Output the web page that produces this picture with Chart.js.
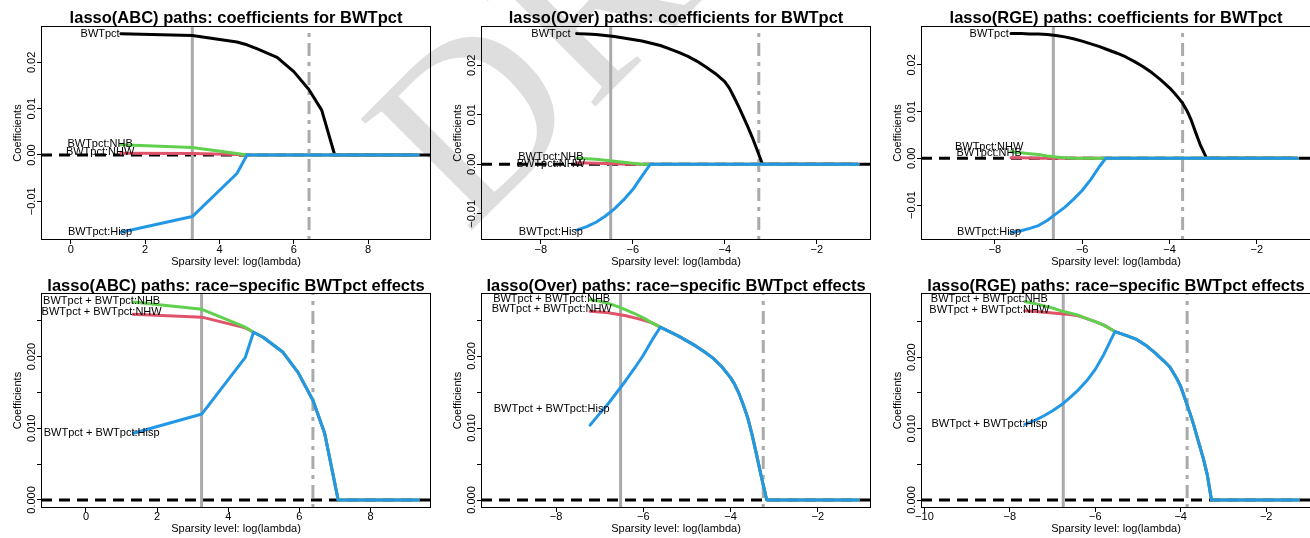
<!DOCTYPE html>
<html>
<head>
<meta charset="utf-8">
<script src="https://cdn.jsdelivr.net/npm/chart.js@4/dist/chart.umd.min.js"></script>
<style>
  html, body { margin: 0; padding: 0; background: #fff; }
  #page { position: relative; width: 1310px; height: 538px; overflow: hidden; }
  #page canvas { position: absolute; }
</style>
</head>
<body>
<div id="page">
  <canvas id="stamp" width="1310" height="538" style="left:0;top:0"></canvas>
</div>
<script>
// ---- lasso(ABC) ----
const abcLogLambda = [1.35, 3.27, 4.47, 4.74, 5.02, 5.55, 6.0, 6.4, 6.75, 7.1, 9.34];
const abcCoefMain = [0.0262, 0.0258, 0.0244, 0.0238, 0.0229, 0.0211, 0.0180, 0.0142, 0.0097, 0, 0];
const abcCoefNHW  = [0.0004, 0.0003, 0.0001, 0, 0, 0, 0, 0, 0, 0, 0];
const abcCoefNHB  = [0.0022, 0.0016, 0.0003, 0, 0, 0, 0, 0, 0, 0, 0];
const abcCoefHisp = [-0.0167, -0.0133, -0.0040, 0, 0, 0, 0, 0, 0, 0, 0];

const abcLogLambdaB = [1.33, 3.26, 4.48, 4.71, 4.98, 5.54, 5.96, 6.38, 6.71, 7.09, 9.34];
const abcEffNHW  = [0.0259, 0.0255, 0.0240, 0.0234, 0.0227, 0.0206, 0.0178, 0.0139, 0.0093, 0, 0];
const abcEffNHB  = [0.0276, 0.0266, 0.0241, 0.0234, 0.0227, 0.0206, 0.0178, 0.0139, 0.0093, 0, 0];
const abcEffHisp = [0.0093, 0.0120, 0.0199, 0.0234, 0.0227, 0.0206, 0.0178, 0.0139, 0.0093, 0, 0];

// ---- lasso(Over) ----
const overLogLambda = [-7.22, -7.0, -6.8, -6.6, -6.4, -6.2, -6.0, -5.8, -5.62, -5.4, -5.2, -5.0, -4.8, -4.6, -4.4, -4.2, -4.0, -3.9, -3.8, -3.7, -3.6, -3.5, -3.4, -3.3, -3.18, -1.1];
const overCoefMain = [0.0264, 0.0263, 0.0262, 0.0260, 0.0258, 0.0255, 0.0252, 0.0249, 0.0245, 0.0240, 0.0233, 0.0226, 0.0218, 0.0208, 0.0196, 0.0183, 0.0167, 0.0154, 0.0136, 0.0117, 0.0097, 0.0076, 0.0054, 0.0030, 0, 0];
const overCoefNHW  = [0.0003, 0.00025, 0.0002, 0.00015, 0.0001, 0.00005, 0, 0, 0, 0, 0, 0, 0, 0, 0, 0, 0, 0, 0, 0, 0, 0, 0, 0, 0, 0];
const overCoefNHB  = [0.0012, 0.0011, 0.0010, 0.0008, 0.0006, 0.0004, 0.0002, 0, 0, 0, 0, 0, 0, 0, 0, 0, 0, 0, 0, 0, 0, 0, 0, 0, 0, 0];
const overCoefHisp = [-0.0133, -0.0126, -0.0117, -0.0105, -0.0090, -0.0072, -0.0051, -0.0024, 0, 0, 0, 0, 0, 0, 0, 0, 0, 0, 0, 0, 0, 0, 0, 0, 0, 0];

const overLogLambdaB = [-7.22, -7.0, -6.8, -6.6, -6.4, -6.2, -6.0, -5.8, -5.61, -5.4, -5.2, -5.0, -4.8, -4.6, -4.4, -4.2, -4.0, -3.9, -3.8, -3.7, -3.6, -3.5, -3.4, -3.3, -3.17, -1.07];
const overEffNHW  = [0.0262, 0.0261, 0.0260, 0.0258, 0.0256, 0.0253, 0.0250, 0.0246, 0.0240, 0.0234, 0.0228, 0.0221, 0.0214, 0.0206, 0.0197, 0.0185, 0.0170, 0.0160, 0.0147, 0.0131, 0.0113, 0.0089, 0.0062, 0.0034, 0, 0];
const overEffNHB  = [0.0278, 0.0276, 0.0273, 0.0269, 0.0264, 0.0259, 0.0253, 0.0246, 0.0240, 0.0234, 0.0228, 0.0221, 0.0214, 0.0206, 0.0197, 0.0185, 0.0170, 0.0160, 0.0147, 0.0131, 0.0113, 0.0089, 0.0062, 0.0034, 0, 0];
const overEffHisp = [0.0104, 0.0120, 0.0134, 0.0150, 0.0166, 0.0183, 0.0201, 0.0222, 0.0240, 0.0234, 0.0228, 0.0221, 0.0214, 0.0206, 0.0197, 0.0185, 0.0170, 0.0160, 0.0147, 0.0131, 0.0113, 0.0089, 0.0062, 0.0034, 0, 0];

// ---- lasso(RGE) ----
const rgeLogLambda = [-7.63, -7.4, -7.2, -7.0, -6.8, -6.6, -6.4, -6.2, -6.0, -5.8, -5.6, -5.46, -5.2, -5.0, -4.8, -4.6, -4.4, -4.2, -4.0, -3.9, -3.8, -3.7, -3.6, -3.5, -3.4, -3.3, -3.15, -1.07];
const rgeCoefMain = [0.0267, 0.0267, 0.0266, 0.0266, 0.0265, 0.0263, 0.0260, 0.0256, 0.0251, 0.0245, 0.0239, 0.0234, 0.0225, 0.0217, 0.0207, 0.0196, 0.0183, 0.0168, 0.0151, 0.0141, 0.0130, 0.0118, 0.0102, 0.0081, 0.0055, 0.0030, 0, 0];
const rgeCoefNHW  = [0.0001, 0.0001, 0.00005, 0.00003, 0, 0, 0, 0, 0, 0, 0, 0, 0, 0, 0, 0, 0, 0, 0, 0, 0, 0, 0, 0, 0, 0, 0, 0];
const rgeCoefNHB  = [0.0014, 0.0012, 0.0010, 0.0008, 0.0005, 0.0003, 0.0001, 0, 0, 0, 0, 0, 0, 0, 0, 0, 0, 0, 0, 0, 0, 0, 0, 0, 0, 0, 0, 0];
const rgeCoefHisp = [-0.0159, -0.0155, -0.0150, -0.0144, -0.0133, -0.0119, -0.0105, -0.0088, -0.0069, -0.0045, -0.0017, 0, 0, 0, 0, 0, 0, 0, 0, 0, 0, 0, 0, 0, 0, 0, 0, 0];

const rgeLogLambdaB = [-7.65, -7.4, -7.2, -7.0, -6.8, -6.6, -6.4, -6.2, -6.0, -5.8, -5.54, -5.3, -5.03, -4.8, -4.6, -4.4, -4.25, -4.1, -4.0, -3.9, -3.78, -3.7, -3.6, -3.47, -3.38, -3.28, -1.25];
const rgeEffNHW  = [0.0265, 0.0264, 0.0263, 0.0262, 0.0261, 0.0260, 0.0258, 0.0254, 0.0250, 0.0245, 0.0236, 0.0231, 0.0225, 0.0216, 0.0206, 0.0195, 0.0186, 0.0171, 0.0159, 0.0142, 0.0121, 0.0106, 0.0085, 0.0058, 0.0036, 0, 0];
const rgeEffNHB  = [0.0278, 0.0275, 0.0272, 0.0269, 0.0265, 0.0262, 0.0259, 0.0254, 0.0250, 0.0245, 0.0236, 0.0231, 0.0225, 0.0216, 0.0206, 0.0195, 0.0186, 0.0171, 0.0159, 0.0142, 0.0121, 0.0106, 0.0085, 0.0058, 0.0036, 0, 0];
const rgeEffHisp = [0.0106, 0.0112, 0.0118, 0.0125, 0.0133, 0.0143, 0.0154, 0.0167, 0.0183, 0.0204, 0.0236, 0.0231, 0.0225, 0.0216, 0.0206, 0.0195, 0.0186, 0.0171, 0.0159, 0.0142, 0.0121, 0.0106, 0.0085, 0.0058, 0.0036, 0, 0];

// ---- ticks ----
const coefTicks = [-0.01, 0, 0.01, 0.02];
const coefTickText = ['\u22120.01', '0.00', '0.01', '0.02'];
const effTicks = [0, 0.005, 0.01, 0.015, 0.02, 0.025];
const effTickText = ['0.000', '', '0.010', '', '0.020', ''];
const posLambdaTicks = [0, 2, 4, 6, 8];
const posLambdaTickText = ['0', '2', '4', '6', '8'];
const negLambdaTicks = [-8, -6, -4, -2];
const negLambdaTickText = ['\u22128', '\u22126', '\u22124', '\u22122'];
const wideLambdaTicks = [-10, -8, -6, -4, -2];
const wideLambdaTickText = ['\u221210', '\u22128', '\u22126', '\u22124', '\u22122'];

const BLACK = '#000000', RED = '#DF536B', GREEN = '#61D04F', BLUE = '#2297E6';
const CUT_GRAY = '#AAAAAA';
const SANS = '"Liberation Sans", Arial, Helvetica, sans-serif';

const panels = [
  {
    col: 0, row: 0, title: 'lasso(ABC) paths: coefficients for BWTpct',
    x: abcLogLambda,
    series: [
      { name: 'BWTpct', values: abcCoefMain, color: BLACK, tagY: 0.0262 },
      { name: 'BWTpct:NHW', values: abcCoefNHW, color: RED, tagY: 0.0007 },
      { name: 'BWTpct:NHB', values: abcCoefNHB, color: GREEN, tagY: 0.0024 },
      { name: 'BWTpct:Hisp', values: abcCoefHisp, color: BLUE, tagY: -0.0166 }
    ],
    xlim: [-0.80, 9.69], ylim: [-0.01836, 0.02786],
    xticks: posLambdaTicks, xtext: posLambdaTickText, yticks: coefTicks, ytext: coefTickText,
    cutMin: 3.27, cut1se: 6.41, tagX: 0.79
  },
  {
    col: 1, row: 0, title: 'lasso(Over) paths: coefficients for BWTpct',
    x: overLogLambda,
    series: [
      { name: 'BWTpct', values: overCoefMain, color: BLACK, tagY: 0.0264 },
      { name: 'BWTpct:NHW', values: overCoefNHW, color: RED, tagY: 0.0 },
      { name: 'BWTpct:NHB', values: overCoefNHB, color: GREEN, tagY: 0.00154 },
      { name: 'BWTpct:Hisp', values: overCoefHisp, color: BLUE, tagY: -0.0136 }
    ],
    xlim: [-9.30, -0.82], ylim: [-0.01529, 0.02794],
    xticks: negLambdaTicks, xtext: negLambdaTickText, yticks: coefTicks, ytext: coefTickText,
    cutMin: -6.48, cut1se: -3.26, tagX: -7.78
  },
  {
    col: 2, row: 0, title: 'lasso(RGE) paths: coefficients for BWTpct',
    x: rgeLogLambda,
    series: [
      { name: 'BWTpct', values: rgeCoefMain, color: BLACK, tagY: 0.02655 },
      { name: 'BWTpct:NHW', values: rgeCoefNHW, color: RED, tagY: 0.00248 },
      { name: 'BWTpct:NHB', values: rgeCoefNHB, color: GREEN, tagY: 0.0012 },
      { name: 'BWTpct:Hisp', values: rgeCoefHisp, color: BLUE, tagY: -0.0157 }
    ],
    xlim: [-9.69, -0.76], ylim: [-0.01749, 0.02833],
    xticks: negLambdaTicks, xtext: negLambdaTickText, yticks: coefTicks, ytext: coefTickText,
    cutMin: -6.66, cut1se: -3.70, tagX: -8.13
  },
  {
    col: 0, row: 1, title: 'lasso(ABC) paths: race\u2212specific BWTpct effects',
    x: abcLogLambdaB,
    series: [
      { name: 'BWTpct + BWTpct:NHW', values: abcEffNHW, color: RED, tagY: 0.02618 },
      { name: 'BWTpct + BWTpct:NHB', values: abcEffNHB, color: GREEN, tagY: 0.02775 },
      { name: 'BWTpct + BWTpct:Hisp', values: abcEffHisp, color: BLUE, tagY: 0.0093 }
    ],
    xlim: [-1.265, 9.70], ylim: [-0.00112, 0.02887],
    xticks: posLambdaTicks, xtext: posLambdaTickText, yticks: effTicks, ytext: effTickText,
    cutMin: 3.25, cut1se: 6.38, tagX: 0.44
  },
  {
    col: 1, row: 1, title: 'lasso(Over) paths: race\u2212specific BWTpct effects',
    x: overLogLambdaB,
    series: [
      { name: 'BWTpct + BWTpct:NHW', values: overEffNHW, color: RED, tagY: 0.0265 },
      { name: 'BWTpct + BWTpct:NHB', values: overEffNHB, color: GREEN, tagY: 0.0279 },
      { name: 'BWTpct + BWTpct:Hisp', values: overEffHisp, color: BLUE, tagY: 0.01265 }
    ],
    xlim: [-9.72, -0.78], ylim: [-0.00111, 0.02875],
    xticks: negLambdaTicks, xtext: negLambdaTickText, yticks: effTicks, ytext: effTickText,
    cutMin: -6.52, cut1se: -3.25, tagX: -8.10
  },
  {
    col: 2, row: 1, title: 'lasso(RGE) paths: race\u2212specific BWTpct effects',
    x: rgeLogLambdaB,
    series: [
      { name: 'BWTpct + BWTpct:NHW', values: rgeEffNHW, color: RED, tagY: 0.0266 },
      { name: 'BWTpct + BWTpct:NHB', values: rgeEffNHB, color: GREEN, tagY: 0.02813 },
      { name: 'BWTpct + BWTpct:Hisp', values: rgeEffHisp, color: BLUE, tagY: 0.0106 }
    ],
    xlim: [-10.08, -0.95], ylim: [-0.00112, 0.0290],
    xticks: wideLambdaTicks, xtext: wideLambdaTickText, yticks: effTicks, ytext: effTickText,
    cutMin: -6.75, cut1se: -3.85, tagX: -8.48
  }
];

// faint diagonal stamp behind the figure
function drawStamp() {
  const ctx = document.getElementById('stamp').getContext('2d');
  ctx.save();
  ctx.translate(467, 235);
  ctx.rotate(-Math.PI / 4);
  ctx.font = '240px "Liberation Serif", "DejaVu Serif", serif';
  ctx.fillStyle = '#dedede';
  ctx.textBaseline = 'alphabetic';
  ctx.fillText('DRAFT', 0, 0);
  ctx.restore();
}

function makePanel(p) {
  const W = 440, H = p.row === 0 ? 270 : 268;
  const box = p.row === 0 ? { l: 41, t: 26, r: 431, b: 240 } : { l: 41, t: 23, r: 431, b: 238 };
  const cv = document.createElement('canvas');
  cv.width = W; cv.height = H;
  cv.style.left = (p.col * 440) + 'px';
  cv.style.top = (p.row === 0 ? 0 : 270) + 'px';
  document.getElementById('page').appendChild(cv);

  const decor = {
    id: 'decor',
    beforeDatasetsDraw(chart) {
      const { ctx, chartArea: a, scales: { x, y } } = chart;
      ctx.save();
      // zero reference
      const y0 = y.getPixelForValue(0);
      ctx.strokeStyle = BLACK; ctx.lineWidth = 3; ctx.lineCap = 'butt';
      ctx.setLineDash([11, 7]);
      ctx.beginPath(); ctx.moveTo(a.left, y0); ctx.lineTo(a.right, y0); ctx.stroke();
      // lambda.min and lambda.1se
      ctx.strokeStyle = CUT_GRAY; ctx.lineWidth = 3;
      ctx.setLineDash([]);
      let xv = x.getPixelForValue(p.cutMin);
      ctx.beginPath(); ctx.moveTo(xv, a.bottom); ctx.lineTo(xv, a.top); ctx.stroke();
      ctx.setLineDash([4, 6, 13, 6]);
      xv = x.getPixelForValue(p.cut1se);
      ctx.beginPath(); ctx.moveTo(xv, a.bottom); ctx.lineTo(xv, a.top); ctx.stroke();
      ctx.restore();
    },
    afterDatasetsDraw(chart) {
      const { ctx, scales: { x, y } } = chart;
      ctx.save();
      ctx.font = '11px ' + SANS; ctx.fillStyle = BLACK;
      ctx.textAlign = 'center'; ctx.textBaseline = 'middle';
      const tx = x.getPixelForValue(p.tagX);
      p.series.forEach(s => ctx.fillText(s.name, tx, y.getPixelForValue(s.tagY)));
      ctx.restore();
    },
    afterDraw(chart) {
      const { ctx, chartArea: a, scales: { x, y } } = chart;
      ctx.save();
      ctx.strokeStyle = BLACK; ctx.lineWidth = 1;
      ctx.strokeRect(a.left + 0.5, a.top + 0.5, a.right - a.left - 1, a.bottom - a.top - 1);
      ctx.fillStyle = BLACK;
      // title
      ctx.font = 'bold 16.5px ' + SANS;
      ctx.textAlign = 'center'; ctx.textBaseline = 'alphabetic';
      ctx.fillText(p.title, (a.left + a.right) / 2, p.row === 0 ? 23.4 : 20.7);
      // x tick labels and title
      ctx.font = '11px ' + SANS;
      p.xticks.forEach((v, i) => ctx.fillText(p.xtext[i], x.getPixelForValue(v), a.bottom + (p.row === 0 ? 12.6 : 12)));
      ctx.fillText('Sparsity level: log(lambda)', (a.left + a.right) / 2, a.bottom + (p.row === 0 ? 25.3 : 24));
      // y tick labels, rotated like the axis
      p.yticks.forEach((v, i) => {
        if (!p.ytext[i]) return;
        ctx.save();
        ctx.translate(a.left - 6, y.getPixelForValue(v));
        ctx.rotate(-Math.PI / 2);
        ctx.fillText(p.ytext[i], 0, 0);
        ctx.restore();
      });
      ctx.save();
      ctx.translate(21, (a.top + a.bottom) / 2);
      ctx.rotate(-Math.PI / 2);
      ctx.fillText('Coefficients', 0, 0);
      ctx.restore();
      ctx.restore();
    }
  };

  const n = p.series.length;
  new Chart(cv, {
    type: 'line',
    data: {
      datasets: p.series.map((s, i) => ({
        label: s.name,
        data: p.x.map((lx, j) => ({ x: lx, y: s.values[j] })),
        borderColor: s.color,
        borderWidth: 3,
        borderCapStyle: 'round',
        borderJoinStyle: 'round',
        pointRadius: 0,
        fill: false,
        tension: 0,
        order: n - i
      }))
    },
    options: {
      responsive: false,
      animation: false,
      devicePixelRatio: 1,
      events: [],
      layout: { padding: { left: 0, top: box.t, right: W - box.r, bottom: 0 } },
      plugins: { legend: { display: false }, tooltip: { enabled: false } },
      scales: {
        x: {
          type: 'linear', min: p.xlim[0], max: p.xlim[1],
          afterBuildTicks: s => { s.ticks = p.xticks.map(v => ({ value: v })); },
          afterFit: s => { s.height = H - box.b; },
          ticks: { display: false },
          grid: { drawOnChartArea: false, drawTicks: true, tickLength: 4, color: BLACK, lineWidth: 1 },
          border: { display: false }
        },
        y: {
          type: 'linear', min: p.ylim[0], max: p.ylim[1],
          afterBuildTicks: s => { s.ticks = p.yticks.map(v => ({ value: v })); },
          afterFit: s => { s.width = box.l; },
          ticks: { display: false },
          grid: { drawOnChartArea: false, drawTicks: true, tickLength: 4, color: BLACK, lineWidth: 1 },
          border: { display: false }
        }
      }
    },
    plugins: [decor]
  });
}

drawStamp();
panels.forEach(makePanel);
</script>
</body>
</html>
